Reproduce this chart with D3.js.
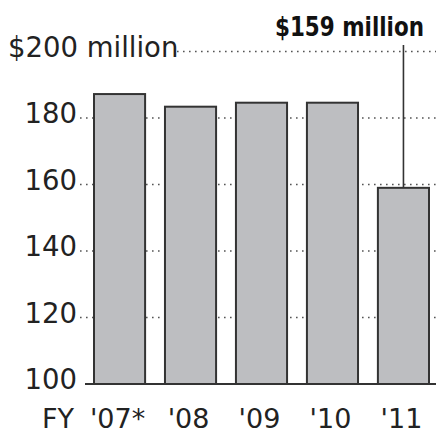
<!DOCTYPE html>
<html>
<head>
<meta charset="utf-8">
<script src="https://cdn.jsdelivr.net/npm/d3@7"></script>
<style>
  body { margin: 0; background: #fff; }
  svg { display: block; }
  text { font-family: "DejaVu Sans", sans-serif; fill: #222; }
</style>
</head>
<body>
<svg id="chart" width="436" height="434"></svg>
<script>

// values
var years = ["'07*", "'08", "'09", "'10", "'11"]
var budget = [187.2, 183.4, 184.6, 184.6, 159]
var yTicks = [100, 120, 140, 160, 180, 200]
var callout = "$159 million"

var svg = d3.select("#chart")

var x = d3.scaleBand().domain(years).range([94, 429]).paddingInner(0.28).paddingOuter(0)
var y = d3.scaleLinear().domain([100, 200]).range([384, 51.5])

// dotted gridlines, drawn first so the bars sit on top
svg.selectAll("line.grid").data(yTicks.slice(1)).enter().append("line")
    .attr("class", "grid")
    .attr("x1", function(d) { return d == 200 ? 177 : 80 })
    .attr("x2", 436)
    .attr("y1", function(d) { return y(d) })
    .attr("y2", function(d) { return y(d) })
    .style("stroke", "#555")
    .style("stroke-width", 1.6)
    .style("stroke-dasharray", "1.6,4.4")

// y labels
svg.selectAll("text.ylab").data(yTicks).enter().append("text")
    .attr("class", "ylab")
    .attr("x", function(d) { return d == 200 ? 8 : 77 })
    .attr("y", function(d) { return y(d) + 5 })
    .attr("text-anchor", function(d) { return d == 200 ? "start" : "end" })
    .style("font-size", "27.5px")
    .text(function(d) { return d == 200 ? "$200 million" : d })

// bars
svg.selectAll("rect.bar").data(budget).enter().append("rect")
    .attr("class", "bar")
    .attr("x", function(d, i) { return x(years[i]) })
    .attr("width", x.bandwidth())
    .attr("y", function(d) { return y(d) })
    .attr("height", function(d) { return y(100) - y(d) })
    .style("fill", "#bdbec1")
    .style("stroke", "#333")
    .style("stroke-width", 2)

// baseline
svg.append("line")
    .attr("x1", 85).attr("x2", 436)
    .attr("y1", y(100)).attr("y2", y(100))
    .style("stroke", "#333")
    .style("stroke-width", 2)

// x labels
svg.selectAll("text.xlab").data(years).enter().append("text")
    .attr("class", "xlab")
    .attr("x", function(d) { return x(d) + x.bandwidth() / 2 - 2 })
    .attr("y", 428)
    .attr("text-anchor", "middle")
    .style("font-size", "27px")
    .text(function(d) { return d })

var first = svg.select("text.xlab").node()
var left = x(years[0]) + x.bandwidth() / 2 - 2 - first.getComputedTextLength() / 2
svg.append("text")
    .attr("x", left - 16)
    .attr("y", 428)
    .attr("text-anchor", "end")
    .style("font-size", "27px")
    .text("FY")

// callout for last year
var last = years.length - 1
var cx = x(years[last]) + x.bandwidth() / 2
svg.append("line")
    .attr("x1", cx).attr("x2", cx)
    .attr("y1", 45).attr("y2", y(budget[last]))
    .style("stroke", "#333")
    .style("stroke-width", 1.6)

svg.append("g")
    .attr("transform", "translate(424,36) scale(1,1.12)")
  .append("text")
    .attr("text-anchor", "end")
    .attr("textLength", 149)
    .attr("lengthAdjust", "spacingAndGlyphs")
    .style("font-family", "'DejaVu Sans Condensed', 'DejaVu Sans', sans-serif")
    .style("font-weight", "bold")
    .style("font-size", "24px")
    .style("fill", "#111")
    .text(callout)

</script>
</body>
</html>
